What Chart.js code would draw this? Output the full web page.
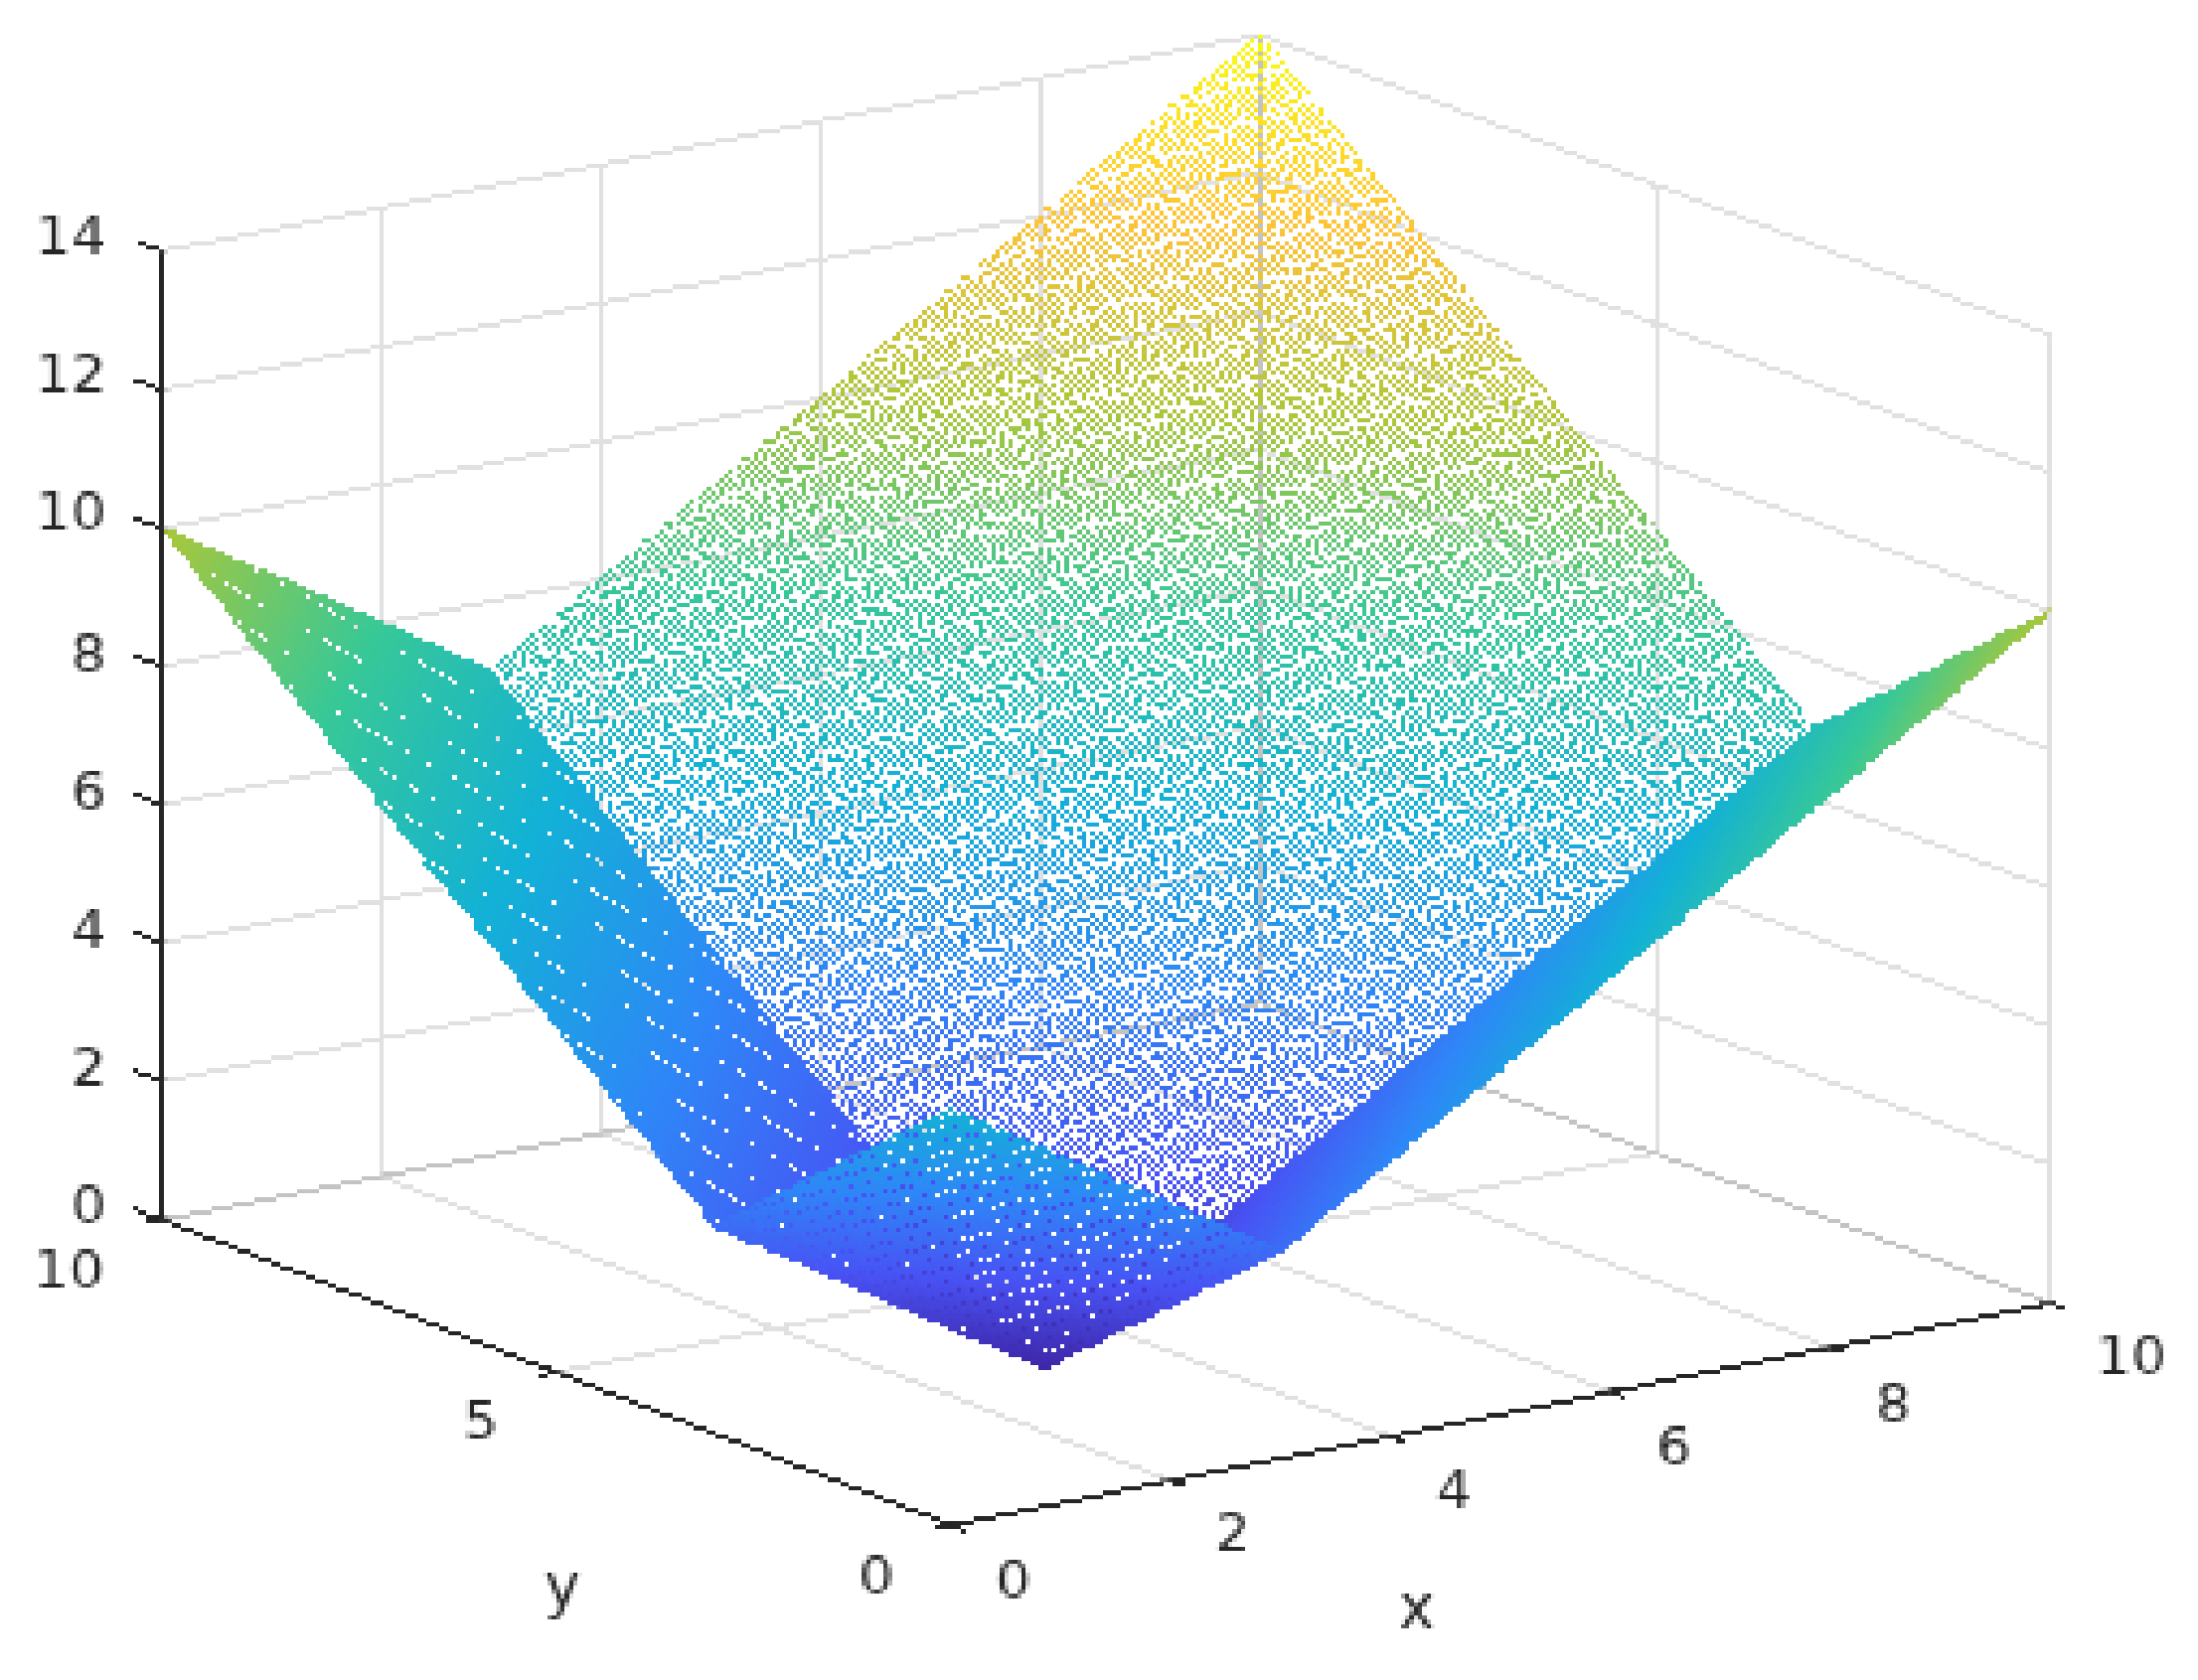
<!DOCTYPE html>
<html><head><meta charset="utf-8">
<style>html,body{margin:0;padding:0;background:#fff}
#c{display:block;width:2212px;height:1691px;image-rendering:pixelated;filter:blur(0.5px)}</style>
<script src="https://cdn.jsdelivr.net/npm/chart.js@4/dist/chart.umd.min.js"></script>
</head><body><canvas id="c" width="2212" height="1691"></canvas>
<script>
// Values
const xKnots = [0, 3, 10];
const yKnots = [0, 3, 10];
const zKnots = [      // rows: y knot, columns: x knot
  [6, 3, 10],
  [3, 0, 7],
  [10, 7, 14]
];
const xTicks = [0, 2, 4, 6, 8, 10];
const yTicks = [0, 5, 10];
const zTicks = [0, 2, 4, 6, 8, 10, 12, 14];
const xAxisName = 'x';
const yAxisName = 'y';
const colorStops = [[62,38,168],[72,82,244],[46,135,247],[18,177,214],[55,200,151],[171,199,57],[254,195,56],[249,251,21]];
const zColorRange = [0, 14];
// Fill texture of each facet: [ix, iy, dot spacing x, dot spacing y, grain in device px]
const facetTexture = [[1, 1, 0.05, 0.05, 0.6], [0, 1, 0.04, 0.05, 0], [1, 0, 0.05, 0.05, 0], [0, 0, 0.05, 0.05, 0]];

// View: projection with a slight perspective term, in page pixels
const origin = [957, 1535], xUnit = [110.6, -22.3], yUnit = [-79.4, -30.7], zUnit = -69.64, twist = [-0.02, 0.05];
const pr = 0.230639;
const project = (x, y, z) => ({
  x: origin[0] + x * xUnit[0] + y * yUnit[0] + x * y * twist[0],
  y: origin[1] + x * xUnit[1] + y * yUnit[1] + x * y * twist[1] + z * zUnit
});
const INK = '#262626', GRID = '#e1e1e1', GRID2 = '#c4c4c4';

function colorAt(z) {
  let t = (z - zColorRange[0]) / (zColorRange[1] - zColorRange[0]);
  t = Math.max(0, Math.min(1, t)) * (colorStops.length - 1);
  const i = Math.min(colorStops.length - 2, Math.floor(t)), f = t - i;
  const a = colorStops[i], b = colorStops[i + 1];
  return 'rgb(' + [0, 1, 2].map(k => Math.round(a[k] + (b[k] - a[k]) * f)).join(',') + ')';
}

// The dotted look of each surface facet is a fill pattern: one device pixel per sample.
// Grain is a fixed sub-pixel dither of the texture only; it changes no value.
const dither = (i, j, k) => { const s = Math.sin(i * 12.9898 + j * 78.233 + k * 37.719) * 43758.5453; return (s - Math.floor(s)) - 0.5; };
function facetPattern(ix, iy, stepX, stepY, grain) {
  const W = Math.floor(2212 * pr), H = Math.floor(1691 * pr);
  const cv = document.createElement('canvas'); cv.width = W; cv.height = H;
  const g = cv.getContext('2d');
  const x0 = xKnots[ix], x1 = xKnots[ix + 1], y0 = yKnots[iy], y1 = yKnots[iy + 1];
  const nx = Math.round((x1 - x0) / stepX), ny = Math.round((y1 - y0) / stepY);
  for (let j = 0; j <= ny; j++) for (let i = 0; i <= nx; i++) {
    const u = i / nx, v = j / ny;
    const z = (1 - v) * ((1 - u) * zKnots[iy][ix] + u * zKnots[iy][ix + 1]) + v * ((1 - u) * zKnots[iy + 1][ix] + u * zKnots[iy + 1][ix + 1]);
    const p = project(x0 + u * (x1 - x0), y0 + v * (y1 - y0), z);
    g.fillStyle = colorAt(z);
    g.fillRect(Math.round(p.x * pr - 0.5 + grain * dither(i, j, 1)), Math.round(p.y * pr - 0.5 + grain * dither(i, j, 2)), 1, 1);
  }
  return cv;
}

const datasets = [];
function addLine(pts, color, width) {
  datasets.push({ type: 'scatter', showLine: true, data: pts.map(p => project(p[0], p[1], p[2])),
    borderColor: color, borderWidth: width || 1 / pr, pointRadius: 0, fill: false, clip: false });
}
// wall and floor grid
const zTop = zTicks[zTicks.length - 1], xEnd = xTicks[xTicks.length - 1], yEnd = yTicks[yTicks.length - 1];
xTicks.filter(v => v > 0 && v < xEnd).forEach(v => {
  addLine([[v, 0, 0], [v, yEnd, 0], [v, yEnd, zTop]], GRID);
});
yTicks.filter(v => v < yEnd).forEach(v => {
  if (v > 0) addLine([[0, v, 0], [xEnd, v, 0]], GRID);
  addLine([[xEnd, v, 0], [xEnd, v, zTop]], GRID);
});
zTicks.filter(v => v > 0).forEach(v => addLine([[0, yEnd, v], [xEnd, yEnd, v], [xEnd, 0, v]], GRID));
addLine([[xEnd, yEnd, 0], [xEnd, yEnd, zTop]], GRID2);
addLine([[0, yEnd, 0], [xEnd, yEnd, 0], [xEnd, 0, 0]], GRID2);

// surface facets, far to near
facetTexture.forEach(([ix, iy, stepX, stepY, grain]) => {
  const corner = [[ix, iy], [ix + 1, iy], [ix + 1, iy + 1], [ix, iy + 1], [ix, iy]];
  const helper = document.createElement('canvas').getContext('2d');
  const pat = helper.createPattern(facetPattern(ix, iy, stepX, stepY, grain), 'no-repeat');
  pat.setTransform(new DOMMatrix().scale(1 / pr));
  datasets.push({ type: 'scatter', showLine: true, fill: 'shape', clip: false,
    data: corner.map(([a, b]) => project(xKnots[a], yKnots[b], zKnots[b][a])),
    borderWidth: 1.2 / pr, borderColor: pat, pointRadius: 0, backgroundColor: pat });
});

// axes and ticks
addLine([[0, 0, 0], [xEnd, 0, 0]], INK);
addLine([[0, 0, 0], [0, yEnd, 0]], INK);
addLine([[0, yEnd, 0], [0, yEnd, zTop]], INK);
xTicks.forEach(v => addLine([[v, 0, 0], [v, -0.2, 0]], INK));
yTicks.forEach(v => addLine([[0, v, 0], [-0.16, v, 0]], INK));
zTicks.forEach(v => addLine([[0, yEnd, v], [0, yEnd + 0.35, v]], INK));
datasets.forEach((d, i) => { d.order = -i; });

const aliasLines = {
  id: 'aliasLines',
  afterDatasetsDraw(chart) {
    const cv = chart.canvas, g = chart.ctx;
    const img = g.getImageData(0, 0, cv.width, cv.height), a = img.data;
    for (let i = 3; i < a.length; i += 4) a[i] = a[i] >= 128 ? 255 : 0;
    g.putImageData(img, 0, 0);
  }
};
const axisText = {
  id: 'axisText',
  afterDraw(chart) {
    const g = chart.ctx, sx = chart.scales.x, sy = chart.scales.y;
    const put = (t, p, dx, dy, align, size) => {
      g.font = size + 'px "DejaVu Sans"'; g.fillStyle = INK; g.textAlign = align; g.textBaseline = 'middle';
      g.fillText(t, sx.getPixelForValue(p.x + dx), sy.getPixelForValue(p.y + dy));
    };
    g.save();
    xTicks.forEach(v => put(String(v), project(v, 0, 0), 45, 58, 'left', 56));
    yTicks.forEach(v => put(String(v), project(0, v, 0), -58, 54, 'right', 56));
    zTicks.forEach(v => put(String(v), project(0, yEnd, v), -56, -11, 'right', 56));
    put(xAxisName, { x: 1425, y: 1622 }, 0, 0, 'center', 62);
    put(yAxisName, { x: 566, y: 1602 }, 0, 0, 'center', 62);
    g.restore();
  }
};
new Chart(document.getElementById('c'), {
  type: 'scatter',
  data: { datasets },
  plugins: [aliasLines, axisText],
  options: {
    responsive: false, animation: false, devicePixelRatio: pr,
    layout: { padding: 0 },
    events: [],
    plugins: { legend: { display: false }, tooltip: { enabled: false }, title: { display: false } },
    scales: {
      x: { type: 'linear', min: 0, max: 2212, display: false },
      y: { type: 'linear', min: 0, max: 1691, reverse: true, display: false }
    }
  }
});
</script></body></html>
